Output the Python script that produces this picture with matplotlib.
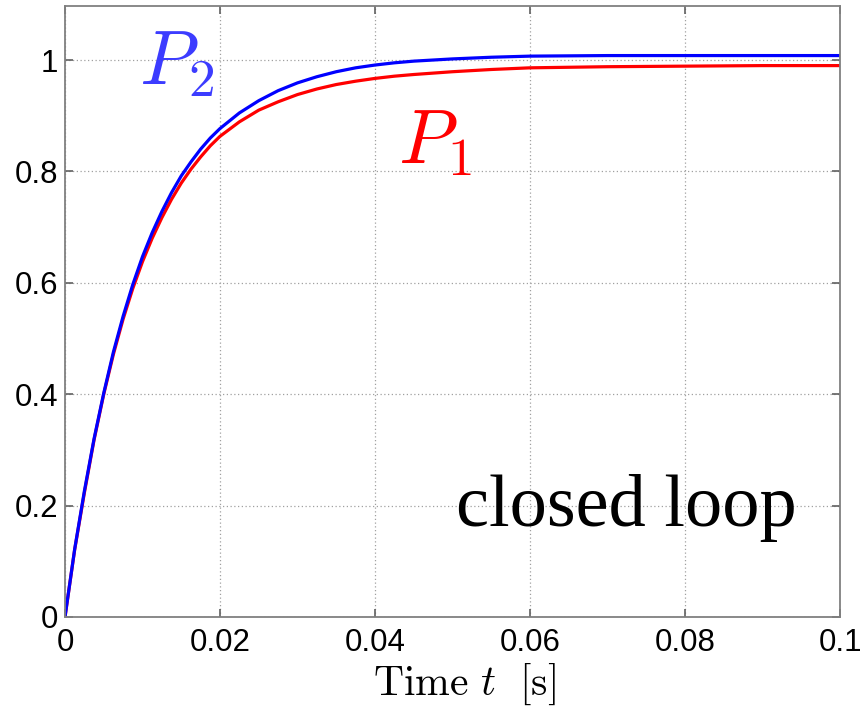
import matplotlib
matplotlib.use("Agg")
import matplotlib.pyplot as plt

t = [0, 0.00125, 0.0025, 0.00375, 0.005, 0.00625, 0.0075, 0.00875, 0.01,
     0.01125, 0.0125, 0.01375, 0.015, 0.01625, 0.0175, 0.01875, 0.02,
     0.0225, 0.025, 0.0275, 0.03, 0.0325, 0.035, 0.0375, 0.04, 0.0425, 0.045,
     0.05, 0.055, 0.06, 0.07, 0.08, 0.09, 0.1]
p2 = [0, 0.122, 0.226, 0.320, 0.402, 0.476, 0.540, 0.597, 0.647,
      0.690, 0.728, 0.762, 0.792, 0.817, 0.840, 0.860, 0.877,
      0.905, 0.927, 0.945, 0.959, 0.970, 0.979, 0.986, 0.991, 0.995, 0.998,
      1.002, 1.005, 1.007, 1.008, 1.008, 1.008, 1.008]
p1 = [0, 0.121, 0.223, 0.318, 0.400, 0.472, 0.535, 0.590, 0.638,
      0.680, 0.717, 0.750, 0.779, 0.804, 0.826, 0.846, 0.863,
      0.889, 0.910, 0.925, 0.938, 0.948, 0.956, 0.962, 0.967, 0.971, 0.974,
      0.979, 0.983, 0.986, 0.988, 0.989, 0.990, 0.990]
xticks = [0, 0.02, 0.04, 0.06, 0.08, 0.1]
xticklabels = ["0", "0.02", "0.04", "0.06", "0.08", "0.1"]
yticks = [0, 0.2, 0.4, 0.6, 0.8, 1]
yticklabels = ["0", "0.2", "0.4", "0.6", "0.8", "1"]

plt.rcParams['mathtext.fontset'] = 'cm'

fig = plt.figure(figsize=(8.66, 7.06), dpi=100)
ax = fig.add_axes([65/866, 89/706, 775/866, 611/706])

ax.plot(t, p1, color='#ff0000', lw=2.3, solid_capstyle='round', solid_joinstyle='round')
ax.plot(t, p2, color='#0000ff', lw=2.3, solid_capstyle='round', solid_joinstyle='round')

ax.set_xlim(0, 0.1)
ax.set_ylim(0, 1.097)
ax.set_xticks(xticks)
ax.set_xticklabels(xticklabels)
ax.set_yticks(yticks)
ax.set_yticklabels(yticklabels)
for lab in ax.get_xticklabels() + ax.get_yticklabels():
    lab.set_fontfamily('Liberation Sans')
    lab.set_fontsize(22.5)
ax.tick_params(direction='in', length=6, width=1.2, color='#606060',
               top=True, right=True, labelcolor='black')
ax.tick_params(axis='x', pad=8)
ax.tick_params(axis='y', pad=5)
for s in ax.spines.values():
    s.set_color('#808080')
    s.set_linewidth(1.3)
ax.grid(True, linestyle=(0, (1, 2)), color='#a0a0a0', lw=0.9)
ax.set_axisbelow(True)

ax.text(0.0095, 0.957, r'$P_2$', color='#3c3cff', fontsize=55, ha='left', va='baseline')
ax.text(0.0430, 0.815, r'$P_1$', color='#ff0000', fontsize=55, ha='left', va='baseline')
ax.text(0.0505, 0.163, 'closed loop', family='Liberation Serif', fontsize=53.5,
        color='black', ha='left', va='baseline')

fig.text(465/866, 1 - 684/706, r'$\mathrm{Time}\ t\ \ [\mathrm{s}]$', fontsize=30,
         ha='center', va='center')

fig.savefig('out.png', dpi=100)
